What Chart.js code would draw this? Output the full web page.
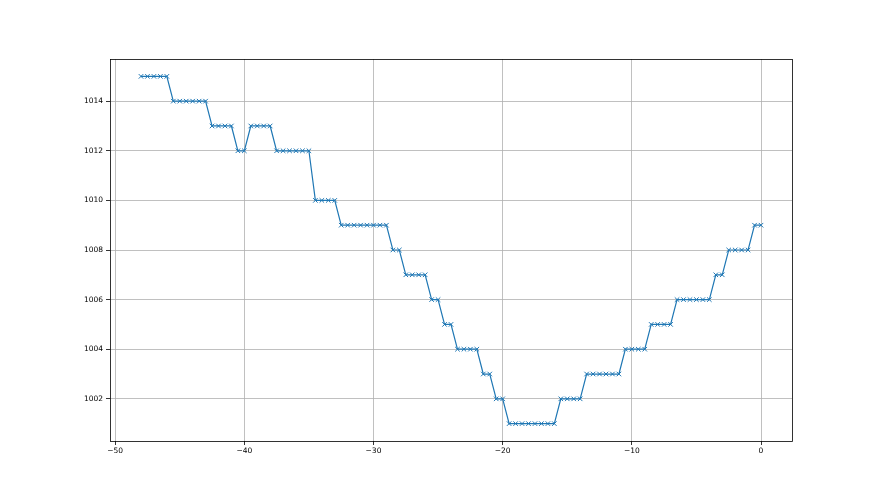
<!DOCTYPE html>
<html>
<head>
<meta charset="utf-8">
<script src="https://cdn.jsdelivr.net/npm/chart.js@4/dist/chart.umd.min.js"></script>
<style>
  html, body { margin: 0; padding: 0; background: #fff; }
  #wrap { width: 880px; height: 495px; }
</style>
</head>
<body>
<div id="wrap"><canvas id="c" width="880" height="495"></canvas></div>
<script>
const hours = [
  -48, -47.5, -47, -46.5, -46, -45.5, -45, -44.5, -44, -43.5, -43, -42.5, -42, -41.5, -41,
  -40.5, -40, -39.5, -39, -38.5, -38, -37.5, -37, -36.5, -36, -35.5, -35, -34.5, -34, -33.5,
  -33, -32.5, -32, -31.5, -31, -30.5, -30, -29.5, -29, -28.5, -28, -27.5, -27, -26.5, -26,
  -25.5, -25, -24.5, -24, -23.5, -23, -22.5, -22, -21.5, -21, -20.5, -20, -19.5, -19, -18.5,
  -18, -17.5, -17, -16.5, -16, -15.5, -15, -14.5, -14, -13.5, -13, -12.5, -12, -11.5, -11,
  -10.5, -10, -9.5, -9, -8.5, -8, -7.5, -7, -6.5, -6, -5.5, -5, -4.5, -4, -3.5, -3,
  -2.5, -2, -1.5, -1, -0.5, 0
];
const pressure = [
  1015, 1015, 1015, 1015, 1015,
  1014, 1014, 1014, 1014, 1014, 1014,
  1013, 1013, 1013, 1013,
  1012, 1012,
  1013, 1013, 1013, 1013,
  1012, 1012, 1012, 1012, 1012, 1012,
  1010, 1010, 1010, 1010,
  1009, 1009, 1009, 1009, 1009, 1009, 1009, 1009,
  1008, 1008,
  1007, 1007, 1007, 1007,
  1006, 1006,
  1005, 1005,
  1004, 1004, 1004, 1004,
  1003, 1003,
  1002, 1002,
  1001, 1001, 1001, 1001, 1001, 1001, 1001, 1001,
  1002, 1002, 1002, 1002,
  1003, 1003, 1003, 1003, 1003, 1003,
  1004, 1004, 1004, 1004,
  1005, 1005, 1005, 1005,
  1006, 1006, 1006, 1006, 1006, 1006,
  1007, 1007,
  1008, 1008, 1008, 1008,
  1009, 1009
];
const xTicks = [-50, -40, -30, -20, -10, 0];
const yTicks = [1002, 1004, 1006, 1008, 1010, 1012, 1014];

const points = hours.map((h, i) => ({ x: h, y: pressure[i] }));

const frame = {
  id: 'frame',
  afterDraw(chart) {
    const a = chart.chartArea, ctx = chart.ctx;
    ctx.save();
    ctx.strokeStyle = '#000';
    ctx.lineWidth = 0.8;
    ctx.strokeRect(Math.round(a.left) + 0.5, Math.round(a.top) + 0.5,
                   Math.round(a.right - a.left), Math.round(a.bottom - a.top));
    ctx.restore();
  }
};

Chart.defaults.font.family = '"DejaVu Sans", sans-serif';
Chart.defaults.font.size = 7.5;
Chart.defaults.color = '#000';

new Chart(document.getElementById('c'), {
  type: 'scatter',
  data: {
    datasets: [{
      data: points,
      showLine: true,
      borderColor: '#1f77b4',
      backgroundColor: '#1f77b4',
      borderWidth: 1.2,
      pointStyle: 'crossRot',
      pointRadius: 3.2,
      pointBorderWidth: 1,
      pointBorderColor: '#1f77b4',
      tension: 0
    }]
  },
  options: {
    responsive: false,
    animation: false,
    events: [],
    layout: { padding: { left: 0, top: 59, right: 88, bottom: 34 } },
    plugins: { legend: { display: false }, tooltip: { enabled: false } },
    scales: {
      x: {
        type: 'linear',
        min: -50.4,
        max: 2.4,
        afterBuildTicks: s => { s.ticks = xTicks.map(v => ({ value: v })); },
        afterFit: s => { s.height = 20; },
        grid: { color: '#b0b0b0', lineWidth: 0.8, tickColor: '#000', tickLength: 4, drawTicks: true },
        border: { display: false },
        ticks: { padding: 2, maxRotation: 0, callback: v => String(v).replace('-', '\u2212') }
      },
      y: {
        type: 'linear',
        min: 1000.3,
        max: 1015.7,
        afterBuildTicks: s => { s.ticks = yTicks.map(v => ({ value: v })); },
        afterFit: s => { s.width = 110; },
        grid: { color: '#b0b0b0', lineWidth: 0.8, tickColor: '#000', tickLength: 4, drawTicks: true },
        border: { display: false },
        ticks: { padding: 3, callback: v => String(v) }
      }
    }
  },
  plugins: [frame]
});
</script>
</body>
</html>
